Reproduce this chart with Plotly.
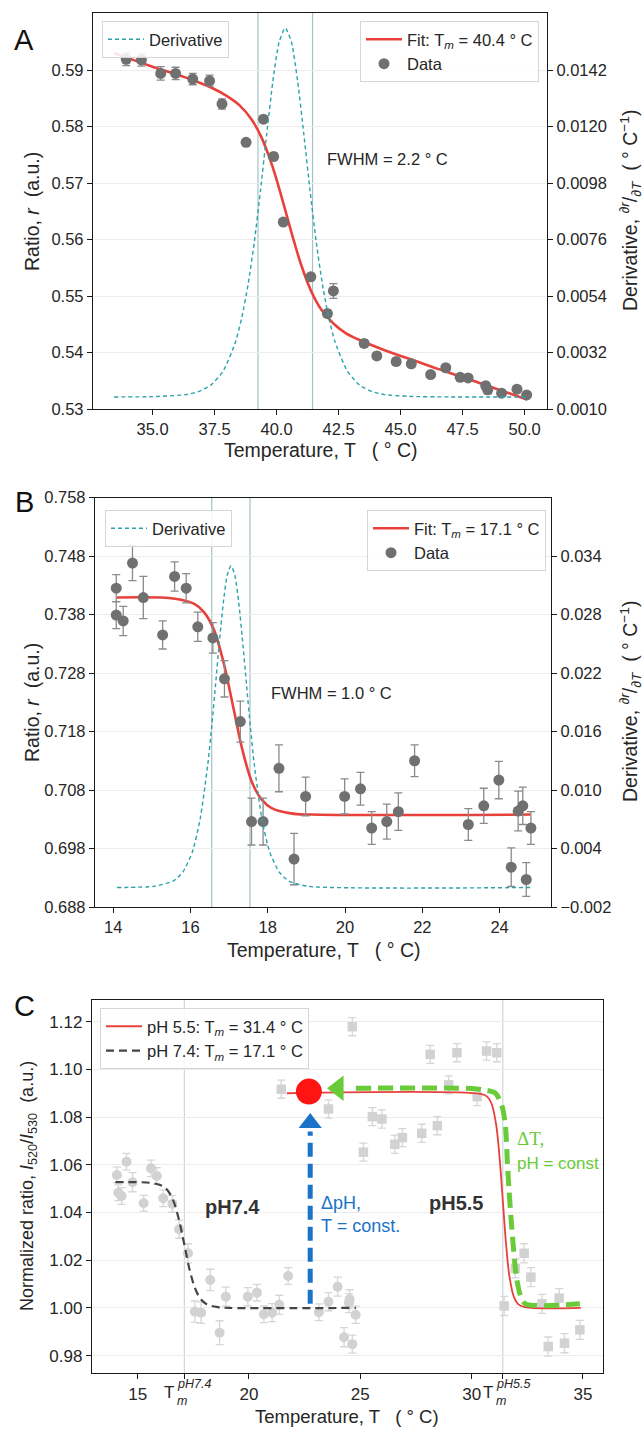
import plotly.graph_objects as go

W, H = 644, 1429
FONT = "Liberation Sans, Arial, sans-serif"

# ---------------- panel A data ----------------
a_temp = [33.94, 34.55, 35.33, 35.93, 36.62, 37.30, 37.80, 38.77, 39.47, 39.88, 40.27,
          41.38, 42.05, 42.29, 43.53, 44.04, 44.82, 45.43, 46.21, 46.82, 47.40, 47.72,
          48.43, 48.51, 49.07, 49.69, 50.08]
a_ratio = [0.5919, 0.5918, 0.5894, 0.5894, 0.5884, 0.5881, 0.5840, 0.5772, 0.5813, 0.5747,
           0.5631, 0.5534, 0.5469, 0.5509, 0.5416, 0.5394, 0.5384, 0.5380, 0.5361, 0.5373,
           0.5356, 0.5355, 0.5341, 0.5334, 0.5328, 0.5335, 0.5325]
a_err = [0.0011, 0.0011, 0.0012, 0.0011, 0.0010, 0.0010, 0.0009, 0.0005, 0.0006, 0.0006,
         0.0006, 0.0006, 0.0006, 0.0013, 0.0006, 0.0006, 0.0006, 0.0006, 0.0005, 0.0006,
         0.0005, 0.0005, 0.0006, 0.0007, 0.0005, 0.0006, 0.0005]
a_fit_temp = [33.45, 35.0, 36.5, 37.5, 38.0, 38.5, 39.0, 39.4, 39.8, 40.1, 40.4, 40.7, 41.0,
              41.4, 41.8, 42.3, 42.8, 43.3, 44.3, 45.4, 46.5, 47.6, 48.7, 50.1]
a_fit_ratio = [0.5930, 0.5906, 0.5884, 0.5866, 0.5854, 0.5838, 0.5812, 0.5780, 0.5734,
               0.5691, 0.5644, 0.5597, 0.5554, 0.5508, 0.5476, 0.5451, 0.5434, 0.5423,
               0.5405, 0.5388, 0.5371, 0.5355, 0.5338, 0.5317]
a_der_temp = [33.45, 35.0, 36.35, 36.85, 37.35, 37.85, 38.35, 38.6, 38.85, 39.1, 39.35, 39.6,
              39.85, 40.1, 40.35, 40.6, 40.85, 41.1, 41.35, 41.6, 41.85, 42.1, 42.35, 42.85,
              43.35, 43.85, 44.35, 45.35, 47.0, 50.1]
a_der = [0.00147, 0.00148, 0.00156, 0.00168, 0.00193, 0.00248, 0.00363, 0.00457, 0.00584,
         0.00749, 0.00949, 0.01169, 0.01376, 0.01528, 0.01584, 0.01528, 0.01376, 0.01169,
         0.00949, 0.00749, 0.00584, 0.00457, 0.00363, 0.00248, 0.00193, 0.00168, 0.00156,
         0.00149, 0.00147, 0.00147]
a_fwhm = [39.25, 41.45]
a_xticks = [35.0, 37.5, 40.0, 42.5, 45.0, 47.5, 50.0]
a_yticks = [0.53, 0.54, 0.55, 0.56, 0.57, 0.58, 0.59]
a_y2ticks = [0.0010, 0.0032, 0.0054, 0.0076, 0.0098, 0.0120, 0.0142]

# ---------------- panel B data ----------------
b_temp = [14.08, 14.08, 14.26, 14.50, 14.78, 15.28, 15.59, 15.89, 16.19, 16.58, 16.88, 17.29,
          17.58, 17.88, 18.29, 18.68, 18.98, 19.99, 20.40, 20.69, 21.08, 21.38, 21.80, 23.19,
          23.59, 23.98, 24.30, 24.48, 24.60, 24.69, 24.81]
b_ratio = [0.7425, 0.7379, 0.7369, 0.7468, 0.7409, 0.7345, 0.7445, 0.7425, 0.7359, 0.7340,
           0.7270, 0.7197, 0.7026, 0.7026, 0.7117, 0.6962, 0.7069, 0.7069, 0.7082, 0.7015,
           0.7026, 0.7043, 0.7130, 0.7021, 0.7053, 0.7097, 0.6948, 0.7044, 0.7053, 0.6927,
           0.7015]
b_err = [0.0023, 0.0023, 0.0025, 0.0030, 0.0036, 0.0024, 0.0025, 0.0025, 0.0025, 0.0026,
         0.0031, 0.0035, 0.0040, 0.0040, 0.0040, 0.0044, 0.0033, 0.0030, 0.0028, 0.0028,
         0.0030, 0.0032, 0.0027, 0.0027, 0.0030, 0.0032, 0.0033, 0.0034, 0.0032, 0.0029,
         0.0028]
b_fit_temp = [14.1, 15.6, 16.1, 16.35, 16.6, 16.85, 17.1, 17.35, 17.6, 17.85, 18.1, 18.6,
              19.1, 24.8]
b_fit_ratio = [0.7409, 0.7407, 0.7398, 0.7384, 0.7355, 0.7300, 0.7224, 0.7147, 0.7092,
               0.7063, 0.7049, 0.7040, 0.7038, 0.7038]
b_der_temp = [14.1, 15.05, 15.55, 15.8, 16.05, 16.25, 16.45, 16.55, 16.65, 16.75, 16.85,
              16.95, 17.05, 17.15, 17.25, 17.35, 17.45, 17.55, 17.65, 17.85, 18.05, 18.3,
              18.55, 19.05, 24.8]
b_der = [0.0, 0.00012, 0.00066, 0.00156, 0.00365, 0.00701, 0.01267, 0.0165, 0.02082,
         0.02525, 0.02921, 0.032, 0.033, 0.032, 0.02921, 0.02525, 0.02082, 0.0165, 0.01267,
         0.00701, 0.00365, 0.00156, 0.00066, 0.00012, 0.0]
b_fwhm = [16.55, 17.54]
b_xticks = [14, 16, 18, 20, 22, 24]
b_yticks = [0.688, 0.698, 0.708, 0.718, 0.728, 0.738, 0.748, 0.758]
b_y2ticks = [-0.002, 0.004, 0.010, 0.016, 0.022, 0.028, 0.034]

# ---------------- panel C data ----------------
c74_temp = [14.07, 14.13, 14.28, 14.50, 14.77, 15.27, 15.60, 15.86, 16.15, 16.56, 16.86,
            17.26, 17.57, 17.85, 18.26, 18.68, 18.96, 19.95, 20.36, 20.67, 21.04, 21.36,
            21.76, 23.14, 23.57, 23.98, 24.27, 24.49, 24.52, 24.64, 24.79]
c74_ratio = [1.0557, 1.0483, 1.0469, 1.0613, 1.0527, 1.0439, 1.0585, 1.0553, 1.0460, 1.0436,
             1.0330, 1.0229, 0.9984, 0.9980, 1.0117, 0.9896, 1.0047, 1.0047, 1.0064, 0.9973,
             0.9980, 1.0013, 1.0134, 0.9982, 1.0026, 1.0089, 0.9877, 1.0020, 1.0036, 0.9848,
             0.9971]
c74_err = [0.0033, 0.0033, 0.0035, 0.0035, 0.0040, 0.0033, 0.0035, 0.0035, 0.0035, 0.0035,
           0.0038, 0.0040, 0.0045, 0.0045, 0.0045, 0.0050, 0.0040, 0.0038, 0.0035, 0.0035,
           0.0038, 0.0040, 0.0035, 0.0035, 0.0038, 0.0040, 0.0040, 0.0040, 0.0040, 0.0038,
           0.0036]
c55_temp = [21.45, 23.57, 24.64, 25.14, 25.54, 25.97, 26.55, 26.89, 27.76, 28.14, 28.46,
            28.97, 29.34, 30.25, 30.67, 31.13, 31.46, 31.96, 32.36, 32.66, 33.16, 33.44,
            33.93, 34.17, 34.86]
c55_ratio = [1.0917, 1.0834, 1.1179, 1.0653, 1.0802, 1.0792, 1.0686, 1.0714, 1.0732, 1.1063,
             1.0764, 1.0935, 1.1070, 1.0886, 1.1077, 1.1070, 1.0008, 1.0166, 1.0229, 1.0129,
             1.0017, 0.9838, 1.0041, 0.9852, 0.9908]
c55_err = [0.0038, 0.0038, 0.0038, 0.0038, 0.0038, 0.0038, 0.0038, 0.0038, 0.0038, 0.0038,
           0.0038, 0.0038, 0.0038, 0.0038, 0.0038, 0.0038, 0.0040, 0.0040, 0.0040, 0.0040,
           0.0040, 0.0040, 0.0040, 0.0040, 0.0040]
c55_fit_temp = [21.7, 30.4, 30.7, 30.9, 31.1, 31.25, 31.4, 31.55, 31.7, 31.9, 32.1, 32.4, 34.9]
c55_fit = [1.090, 1.0897, 1.0886, 1.0855, 1.0769, 1.0636, 1.045, 1.0264, 1.0131, 1.0045,
           1.0015, 1.0003, 1.000]
c74_fit_temp = [14.0, 15.6, 16.1, 16.35, 16.6, 16.85, 17.1, 17.35, 17.6, 17.85, 18.1, 18.6,
                19.1, 24.8]
c74_fit = [1.0527, 1.0524, 1.0512, 1.0492, 1.0450, 1.0372, 1.0264, 1.0154, 1.0077, 1.0035,
           1.0015, 1.0003, 1.0, 1.0]
green_temp = [24.8, 30.0, 30.55, 31.07, 31.37, 31.52, 31.6, 31.68, 31.8, 32.01, 32.2, 32.42,
              34.86]
green_ratio = [1.0921, 1.0920, 1.0914, 1.0900, 1.0844, 1.0760, 1.0620, 1.0494, 1.0340,
               1.0131, 1.0050, 1.0017, 1.0017]
blue_temp = [22.75, 22.75]
blue_ratio = [1.0017, 1.0740]
red_dot = (22.69, 1.0907)
c_tm = [17.1, 31.4]
c_tm_labels = ["pH7.4", "pH5.5"]
c_xticks = [15, 17.1, 20, 25, 30, 31.4, 35]
c_xticktext = ["15", "", "20", "25", "30", "", "35"]
c_yticks = [0.98, 1.00, 1.02, 1.04, 1.06, 1.08, 1.10, 1.12]

RED = "#e8413c"
TEAL = "#2aa3a8"
GREY = "#707070"
LIGHT = "#d2d2d2"
INK = "#262626"


def px_x(p):
    return p / W


def px_y(p):
    return 1 - p / H


def base_axis(**kw):
    ax = dict(showline=True, linecolor="#1a1a1a", linewidth=1.3, ticks="outside",
              ticklen=5, tickwidth=1.2, tickcolor="#1a1a1a", zeroline=False,
              showgrid=False, automargin=False, tickangle=0,
              tickfont=dict(size=16.5, color=INK, family=FONT))
    ax.update(kw)
    return ax


def legend_box(x, y, xanchor, size=16.5):
    return dict(x=x, y=y, xanchor=xanchor, yanchor="top", bgcolor="rgba(255,255,255,0.85)",
                bordercolor="#d5d5d5", borderwidth=1, itemwidth=36,
                font=dict(size=size, color=INK, family=FONT), tracegroupgap=2)


def text_at(text, x, y, size, color=INK, family=FONT, xanchor="center", **kw):
    ann = dict(text=text, x=px_x(x), y=px_y(y), xref="paper", yref="paper",
               xanchor=xanchor, yanchor="middle", showarrow=False,
               font=dict(size=size, color=color, family=family))
    ann.update(kw)
    return ann


def tm_label(t, tag):
    """T_m with stacked superscript tag, drawn under the x axis of panel C."""
    common = dict(x=t, xref="x3", yref="paper", showarrow=False, yanchor="middle")
    return [
        dict(text="T", xanchor="right", xshift=-8, y=px_y(1392),
             font=dict(size=17, color=INK, family=FONT), **common),
        dict(text="<i>m</i>", xanchor="left", xshift=-9, y=px_y(1401),
             font=dict(size=12.5, color=INK, family=FONT), **common),
        dict(text="<i>%s</i>" % tag, xanchor="left", xshift=-9, y=px_y(1384),
             font=dict(size=12.5, color=INK, family=FONT), **common),
    ]


def add_panel(fig, xa, ya, ya2, temp, ratio, err, fit_t, fit_r, der_t, der, tm, leg1, leg2):
    fig.add_trace(go.Scatter(
        x=fit_t, y=fit_r, mode="lines", line=dict(color=RED, width=2.6, shape="spline"),
        name="Fit: T<sub><i>m</i></sub> = %.1f ° C" % tm, xaxis=xa, yaxis=ya, legend=leg2))
    fig.add_trace(go.Scatter(
        x=temp, y=ratio, mode="markers", name="Data", xaxis=xa, yaxis=ya, legend=leg2,
        marker=dict(color=GREY, size=11),
        error_y=dict(type="data", array=err, color="#8a8a8a", thickness=1.3, width=4)))
    fig.add_trace(go.Scatter(
        x=der_t, y=der, mode="lines", name="Derivative", xaxis=xa, yaxis=ya2, legend=leg1,
        line=dict(color=TEAL, width=1.4, dash="4px,3px", shape="spline", smoothing=0.6)))


def main():
    fig = go.Figure()

    # panel A
    add_panel(fig, "x", "y", "y2", a_temp, a_ratio, a_err, a_fit_temp, a_fit_ratio,
              a_der_temp, a_der, 40.4, "legend", "legend2")
    # panel B
    add_panel(fig, "x2", "y3", "y4", b_temp, b_ratio, b_err, b_fit_temp, b_fit_ratio,
              b_der_temp, b_der, 17.1, "legend3", "legend4")

    # panel C
    fig.add_trace(go.Scatter(
        x=c74_temp, y=c74_ratio, mode="markers", showlegend=False, xaxis="x3", yaxis="y5",
        marker=dict(color=LIGHT, size=10),
        error_y=dict(type="data", array=c74_err, color="#d6d6d6", thickness=1.3, width=4)))
    fig.add_trace(go.Scatter(
        x=c55_temp, y=c55_ratio, mode="markers", showlegend=False, xaxis="x3", yaxis="y5",
        marker=dict(color=LIGHT, size=9.5, symbol="square"),
        error_y=dict(type="data", array=c55_err, color="#d6d6d6", thickness=1.3, width=4)))
    fig.add_trace(go.Scatter(
        x=c55_fit_temp, y=c55_fit, mode="lines", xaxis="x3", yaxis="y5", legend="legend5",
        name="pH 5.5: T<sub><i>m</i></sub> = 31.4 ° C",
        line=dict(color=RED, width=1.8, shape="spline")))
    fig.add_trace(go.Scatter(
        x=c74_fit_temp, y=c74_fit, mode="lines", xaxis="x3", yaxis="y5", legend="legend5",
        name="pH 7.4: T<sub><i>m</i></sub> = 17.1 ° C",
        line=dict(color="#454545", width=2.2, dash="8px,5px", shape="spline")))
    fig.add_trace(go.Scatter(
        x=green_temp, y=green_ratio, mode="lines", showlegend=False, xaxis="x3", yaxis="y5",
        line=dict(color="#6acb38", width=5, dash="15px,7px", shape="spline", smoothing=0.8)))
    fig.add_trace(go.Scatter(
        x=[24.0], y=[1.0921], mode="markers", showlegend=False, xaxis="x3", yaxis="y5",
        marker=dict(symbol="triangle-left", size=22, color="#6acb38")))
    fig.add_trace(go.Scatter(
        x=blue_temp, y=blue_ratio, mode="lines", showlegend=False, xaxis="x3", yaxis="y5",
        line=dict(color="#1a73c7", width=5, dash="14px,7px")))
    fig.add_trace(go.Scatter(
        x=[blue_temp[0]], y=[1.0775], mode="markers", showlegend=False, xaxis="x3",
        yaxis="y5", marker=dict(symbol="triangle-up", size=20, color="#1a73c7")))
    fig.add_trace(go.Scatter(
        x=[red_dot[0]], y=[red_dot[1]], mode="markers", showlegend=False, xaxis="x3",
        yaxis="y5", marker=dict(color="#ff1414", size=26)))

    shapes = []
    for t in a_fwhm:
        shapes.append(dict(type="line", xref="x", yref="y domain", x0=t, x1=t, y0=0, y1=1,
                           line=dict(color="#a6c3c3", width=1.2), layer="below"))
    for t in b_fwhm:
        shapes.append(dict(type="line", xref="x2", yref="y3 domain", x0=t, x1=t, y0=0, y1=1,
                           line=dict(color="#a6c3c3", width=1.2), layer="below"))
    for t in c_tm:
        shapes.append(dict(type="line", xref="x3", yref="y5 domain", x0=t, x1=t, y0=0, y1=1,
                           line=dict(color="#c9d9dc", width=1.2), layer="below"))

    deriv_title = "Derivative, <sup><i>∂r</i></sup>/<sub><i>∂T</i></sub>  ( ° C<sup>−1</sup>)"
    temp_title = "Temperature, T   ( ° C)"
    ratio_title = "Ratio, <i>r</i>  (a.u.)"
    norm_title = ("Normalized ratio, <i>I</i><sub>520</sub>/<i>I</i><sub>530</sub>"
                  "  (a.u.)")

    annotations = [
        text_at("A", 24, 40, 29, "#111"),
        text_at("B", 24, 502, 29, "#111"),
        text_at("C", 24, 1006, 29, "#111"),
        text_at(temp_title, 320, 450, 19.5),
        text_at(temp_title, 323, 950, 19.5),
        text_at(temp_title, 347, 1416, 18.5),
        text_at(ratio_title, 32, 211, 19.5, textangle=-90),
        text_at(ratio_title, 32, 702, 19.5, textangle=-90),
        text_at(norm_title, 28, 1186, 18, textangle=-90),
        text_at(deriv_title, 630, 211, 19.5, textangle=-90),
        text_at(deriv_title, 630, 702, 19.5, textangle=-90),
        text_at("FWHM = 2.2 ° C", 325, 159, 16.5, xanchor="left"),
        text_at("FWHM = 1.0 ° C", 269, 693, 16.5, xanchor="left"),
        text_at("<b>pH7.4</b>", 232, 1207, 20, "#333333"),
        text_at("<b>pH5.5</b>", 456, 1203, 20, "#333333"),
        text_at("ΔpH,<br>T = const.", 319, 1214, 18, "#1a73c7", xanchor="left",
                align="left"),
        text_at("ΔT,", 515, 1138, 19, "#6acb38", family="Liberation Serif, serif",
                xanchor="left"),
        text_at("pH = const", 515, 1163, 17, "#6acb38", xanchor="left"),
    ]
    for t, tag in zip(c_tm, c_tm_labels):
        annotations.extend(tm_label(t, tag))

    fig.update_layout(
        width=W, height=H, margin=dict(l=0, r=0, t=0, b=0),
        paper_bgcolor="white", plot_bgcolor="white",
        font=dict(family=FONT, color=INK),
        xaxis=base_axis(domain=[px_x(93), px_x(547)], anchor="y", range=[32.6, 50.9],
                        mirror=True, tickvals=a_xticks,
                        ticktext=["%.1f" % v for v in a_xticks]),
        yaxis=base_axis(domain=[px_y(409), px_y(13)], anchor="x", range=[0.53, 0.6001],
                        mirror=True, tickvals=a_yticks,
                        ticktext=["%.2f" % v for v in a_yticks], showgrid=True,
                        gridcolor="#ececec"),
        yaxis2=base_axis(overlaying="y", anchor="x", side="right", range=[0.0010, 0.01642],
                         tickvals=a_y2ticks, ticktext=["%.4f" % v for v in a_y2ticks]),
        xaxis2=base_axis(domain=[px_x(95), px_x(551)], anchor="y3", range=[13.53, 25.33],
                         mirror=True, tickvals=b_xticks),
        yaxis3=base_axis(domain=[px_y(907), px_y(497.5)], anchor="x2", range=[0.688, 0.758],
                         mirror=True, tickvals=b_yticks,
                         ticktext=["%.3f" % v for v in b_yticks], showgrid=True,
                         gridcolor="#ececec"),
        yaxis4=base_axis(overlaying="y3", anchor="x2", side="right", range=[-0.002, 0.040],
                         tickvals=b_y2ticks,
                         ticktext=[("%.3f" % v).replace("-", "−") for v in b_y2ticks]),
        xaxis3=base_axis(domain=[px_x(92), px_x(603)], anchor="y5", range=[12.95, 35.9],
                         mirror=True, tickvals=c_xticks, ticktext=c_xticktext,
                         tickfont=dict(size=17, color=INK, family=FONT)),
        yaxis5=base_axis(domain=[px_y(1373), px_y(1000)], anchor="x3",
                         range=[0.9727, 1.1291], mirror=True, tickvals=c_yticks,
                         ticktext=["%.2f" % v for v in c_yticks], showgrid=True,
                         gridcolor="#ececec",
                         tickfont=dict(size=17, color=INK, family=FONT)),
        legend=legend_box(px_x(102), px_y(21), "left"),
        legend2=legend_box(px_x(539), px_y(21), "right"),
        legend3=legend_box(px_x(105), px_y(510), "left"),
        legend4=legend_box(px_x(546), px_y(510), "right"),
        legend5=legend_box(px_x(100), px_y(1008), "left"),
        shapes=shapes,
        annotations=annotations,
    )

    # the page body has a default 8px margin; drop it so the figure sits at 0,0
    fig.write_html("out.html", config={"displayModeBar": False},
                   post_script="document.body.style.margin='0';"
                               "document.body.style.overflow='hidden';")


if __name__ == "__main__":
    main()
